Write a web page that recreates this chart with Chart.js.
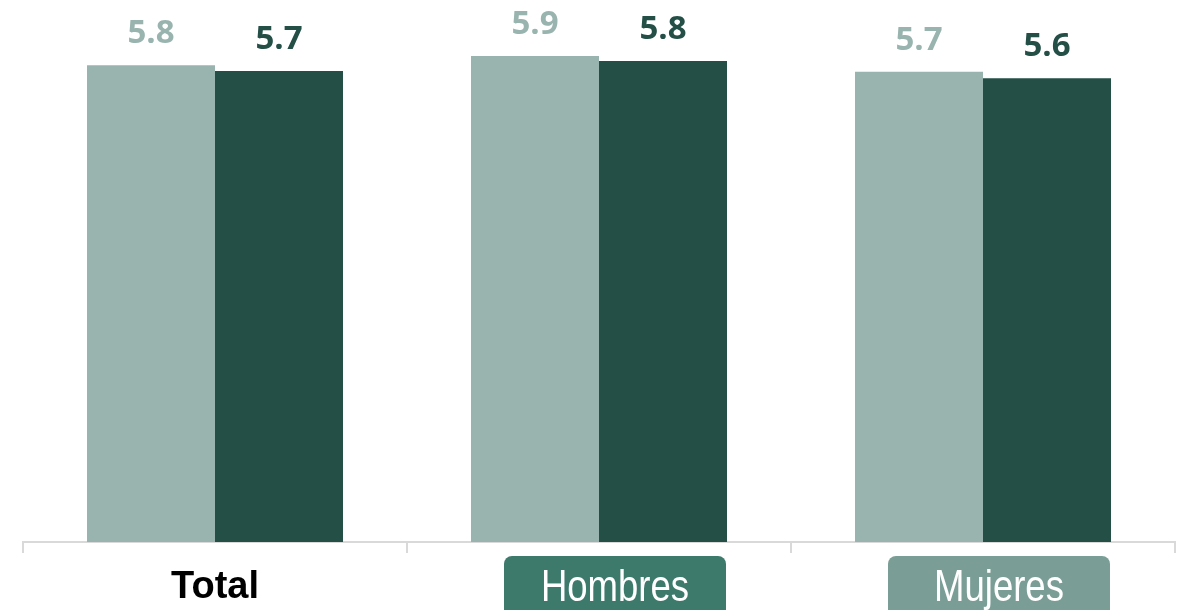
<!DOCTYPE html>
<html>
<head>
<meta charset="utf-8">
<script src="https://cdn.jsdelivr.net/npm/chart.js@4"></script>
<style>
  html, body { margin: 0; padding: 0; background: #fff; }
  #wrap { width: 1185px; height: 610px; position: relative; }
</style>
</head>
<body>
<div id="wrap"><canvas id="chart" width="1185" height="610"></canvas></div>
<script>
const categories = ['Total', 'Hombres', 'Mujeres'];
const previousValues = [5.78, 5.89, 5.70];
const currentValues = [5.71, 5.83, 5.62];
// label boxes drawn behind some category names (null = plain text)
const labelBoxColors = [null, '#3d7a6c', '#7a9e96'];

const LIGHT = '#99b4ae';
const DARK = '#234f46';

const valueLabels = {
  id: 'valueLabels',
  afterDatasetsDraw(chart) {
    const { ctx } = chart;
    ctx.save();
    ctx.font = 'bold 33px "Open Sans", sans-serif';
    ctx.textAlign = 'center';
    ctx.textBaseline = 'alphabetic';
    chart.data.datasets.forEach((ds, i) => {
      ctx.fillStyle = ds.backgroundColor;
      chart.getDatasetMeta(i).data.forEach((bar, j) => {
        ctx.fillText(ds.data[j].toFixed(1), bar.x, bar.y - 22);
      });
    });
    ctx.restore();
  },
};

// narrow condensed look: regular sans squeezed horizontally
const boxedLabels = {
  id: 'boxedLabels',
  afterDraw(chart) {
    const { ctx } = chart;
    const x = chart.scales.x;
    categories.forEach((name, i) => {
      const color = labelBoxColors[i];
      if (!color) return;
      const cx = x.getPixelForValue(i) + 16;
      ctx.save();
      ctx.fillStyle = color;
      ctx.beginPath();
      ctx.roundRect(cx - 111, 556, 222, 64, 8);
      ctx.fill();
      ctx.translate(cx, 601);
      ctx.scale(0.83, 1);
      ctx.fillStyle = '#ffffff';
      ctx.font = '44px "Liberation Sans", Arial, sans-serif';
      ctx.textAlign = 'center';
      ctx.textBaseline = 'alphabetic';
      ctx.fillText(name, 0, 0);
      ctx.restore();
    });
  },
};

new Chart(document.getElementById('chart'), {
  type: 'bar',
  data: {
    labels: categories,
    datasets: [
      { data: previousValues, backgroundColor: LIGHT },
      { data: currentValues, backgroundColor: DARK },
    ],
  },
  options: {
    responsive: false,
    animation: false,
    events: [],
    categoryPercentage: 0.6667,
    barPercentage: 1,
    layout: { padding: { left: 23, right: 10, top: 0, bottom: 0 } },
    plugins: {
      legend: { display: false },
      tooltip: { enabled: false },
    },
    scales: {
      y: { display: false, min: 0, max: 6.57 },
      x: {
        afterFit: (scale) => { scale.height = 68; },
        border: { display: true, color: '#d9d9d9', width: 2 },
        grid: {
          display: true,
          offset: true,
          drawOnChartArea: false,
          drawTicks: true,
          tickLength: 11,
          color: '#d9d9d9',
          lineWidth: 2,
        },
        ticks: {
          padding: 12,
          color: '#000000',
          font: { family: '"Liberation Sans", Arial, sans-serif', size: 38, weight: 'bold' },
          callback: (value, index) => (labelBoxColors[index] ? '' : categories[index]),
        },
      },
    },
  },
  plugins: [valueLabels, boxedLabels],
});
</script>
</body>
</html>
